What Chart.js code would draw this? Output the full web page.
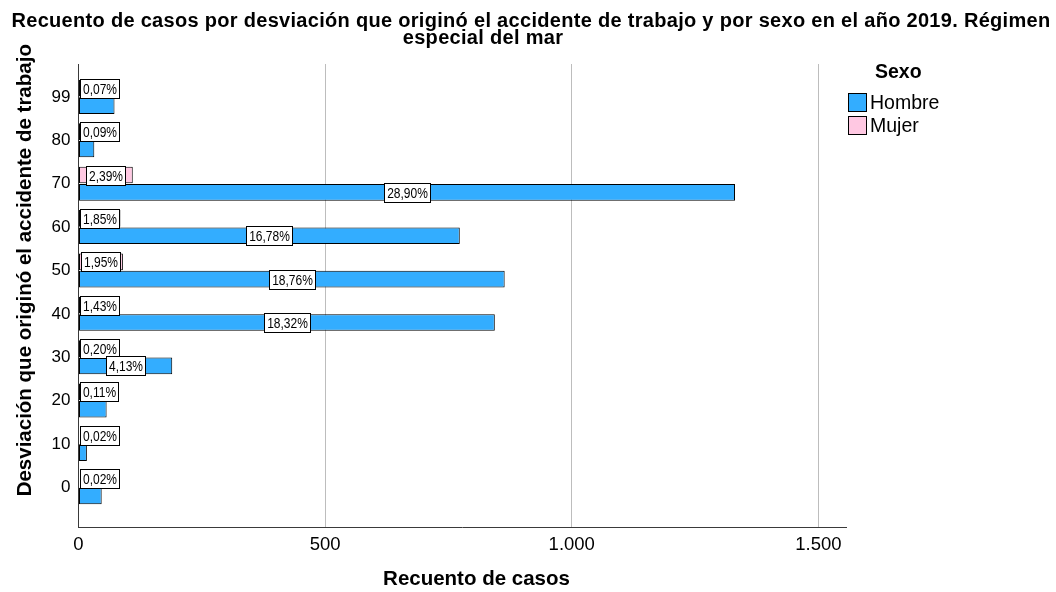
<!DOCTYPE html>
<html lang="es">
<head>
    <meta charset="UTF-8">
    <title>Recuento de casos por desviación - Régimen especial del mar</title>
    <script src="https://cdn.jsdelivr.net/npm/chart.js"></script>
    <style>
        body {
            margin: 0;
            background: #fff;
            font-family: "Liberation Sans", Arial, sans-serif;
        }
        .wrap {
            position: relative;
            width: 1056px;
            height: 592px;
        }
        canvas {
            position: absolute;
            left: 0;
            top: 0;
        }
        .title {
            position: absolute;
            font-size: 20px;
            font-weight: bold;
            letter-spacing: 0.3px;
            line-height: 20px;
            white-space: nowrap;
            transform: translateX(-50%);
            color: #000;
        }
        .legend {
            position: absolute;
            left: 848px;
            top: 60px;
            font-size: 19.5px;
            color: #000;
        }
        .legend .head {
            font-weight: bold;
            margin-left: 27px;
            line-height: 22px;
        }
        .legend .item {
            display: flex;
            align-items: center;
            height: 22px;
            margin-top: 1px;
        }
        .legend .item.first {
            margin-top: 9px;
        }
        .legend .box {
            width: 17px;
            height: 17px;
            border: 1px solid #000;
            margin-right: 3px;
        }
    </style>
</head>
<body>
    <div class="wrap">
        <canvas id="chart" width="1056" height="592"></canvas>
        <div class="title" style="left:531px; top:10px;">Recuento de casos por desviación que originó el accidente de trabajo y por sexo en el año 2019. Régimen</div>
        <div class="title" style="left:483px; top:27px;">especial del mar</div>
        <div class="legend">
            <div class="head">Sexo</div>
            <div class="item first"><span class="box" style="background:#33adff"></span>Hombre</div>
            <div class="item"><span class="box" style="background:#ffc8e2"></span>Mujer</div>
        </div>
    </div>

    <script>
        // categorías de desviación, de arriba a abajo
        const categories = ["99", "80", "70", "60", "50", "40", "30", "20", "10", "0"];
        const hombre = [73, 32, 1331, 773, 864, 844, 190, 57, 17, 47];
        const mujer = [3, 4, 110, 85, 90, 66, 9, 5, 1, 1];
        // porcentajes del total mostrados en las etiquetas (null = sin etiqueta)
        const hombreLabels = [null, null, "28,90%", "16,78%", "18,76%", "18,32%", "4,13%", null, null, null];
        const mujerLabels = ["0,07%", "0,09%", "2,39%", "1,85%", "1,95%", "1,43%", "0,20%", "0,11%", "0,02%", "0,02%"];
        const xTicks = [0, 500, 1000, 1500];
        const xMax = 1556;

        const colorHombre = "#33adff";
        const colorMujer = "#ffc8e2";

        function toPoints(values) {
            return values.map((v, i) => ({ x: v, y: i }));
        }

        function formatMiles(v) {
            return String(v).replace(/\B(?=(\d{3})+(?!\d))/g, ".");
        }

        // cajas blancas con el porcentaje sobre cada barra
        const boxLabels = {
            id: "boxLabels",
            afterDatasetsDraw(chart) {
                const ctx = chart.ctx;
                const left = chart.chartArea.left;
                ctx.save();
                ctx.font = "12px 'Liberation Sans', Arial, sans-serif";
                ctx.textAlign = "center";
                ctx.textBaseline = "middle";
                chart.data.datasets.forEach((ds, di) => {
                    const meta = chart.getDatasetMeta(di);
                    meta.data.forEach((bar, i) => {
                        const text = ds.boxLabels[i];
                        if (!text) return;
                        const w = Math.round(ctx.measureText(text).width + 5);
                        const h = 19;
                        const barW = Math.abs(bar.x - bar.base);
                        if (ds.onlyInside && barW < w) return;
                        let cx = (bar.x + bar.base) / 2;
                        cx = Math.max(cx, left + 1 + w / 2);
                        const x0 = Math.round(cx - w / 2) + 0.5;
                        const y0 = Math.round(bar.y - h / 2) + 0.5;
                        ctx.fillStyle = "#fff";
                        ctx.fillRect(x0, y0, w, h);
                        ctx.strokeStyle = "#000";
                        ctx.lineWidth = 1;
                        ctx.strokeRect(x0, y0, w, h);
                        // letra estrecha y alta como en el original
                        ctx.save();
                        ctx.translate(x0 + w / 2, y0 + h / 2 + 0.5);
                        ctx.scale(1, 1.25);
                        ctx.fillStyle = "#000";
                        ctx.fillText(text, 0, 0);
                        ctx.restore();
                    });
                });
                ctx.restore();
            }
        };

        const ctx = document.getElementById("chart").getContext("2d");
        const chart = new Chart(ctx, {
            type: "bar",
            data: {
                datasets: [
                    {
                        label: "Mujer",
                        data: toPoints(mujer),
                        backgroundColor: colorMujer,
                        borderColor: "#000",
                        borderWidth: 1,
                        borderSkipped: false,
                        boxLabels: mujerLabels,
                        onlyInside: false
                    },
                    {
                        label: "Hombre",
                        data: toPoints(hombre),
                        backgroundColor: colorHombre,
                        borderColor: "#000",
                        borderWidth: 1,
                        borderSkipped: false,
                        boxLabels: hombreLabels,
                        onlyInside: true
                    }
                ]
            },
            options: {
                indexAxis: "y",
                responsive: false,
                animation: false,
                devicePixelRatio: 1,
                categoryPercentage: 0.8,
                barPercentage: 0.96,
                layout: {
                    padding: { left: 0, right: 210, top: 64, bottom: 0 }
                },
                plugins: {
                    legend: { display: false },
                    tooltip: { enabled: false }
                },
                scales: {
                    x: {
                        type: "linear",
                        bounds: "data",
                        min: 0,
                        max: xMax,
                        afterBuildTicks: (s) => { s.ticks = xTicks.map((v) => ({ value: v })); },
                        grid: {
                            drawTicks: false,
                            color: (c) => (c.tick && c.tick.value === 0 ? "rgba(0,0,0,0)" : "#bdbdbd"),
                            lineWidth: 1
                        },
                        border: { color: "#3a3a3a", width: 1 },
                        ticks: {
                            padding: 6,
                            color: "#000",
                            maxRotation: 0,
                            font: { family: "'Liberation Sans', Arial", size: 18.5 },
                            callback: (v) => formatMiles(v)
                        },
                        title: {
                            display: true,
                            text: "     Recuento de casos",
                            color: "#000",
                            font: { family: "'Liberation Sans', Arial", size: 20.5, weight: "bold" },
                            padding: { top: 5.5, bottom: 0 }
                        }
                    },
                    y: {
                        type: "linear",
                        bounds: "data",
                        reverse: true,
                        offset: false,
                        min: -0.76,
                        max: 9.93,
                        afterBuildTicks: (s) => { s.ticks = categories.map((c, i) => ({ value: i })); },
                        grid: { display: false, drawTicks: false, offset: false },
                        border: { display: true, color: "#3a3a3a", width: 1 },
                        ticks: {
                            padding: 8,
                            color: "#000",
                            font: { family: "'Liberation Sans', Arial", size: 17 },
                            callback: (v) => categories[v]
                        },
                        title: {
                            display: true,
                            text: "         Desviación que originó el accidente de trabajo",
                            color: "#000",
                            font: { family: "'Liberation Sans', Arial", size: 20.5, weight: "bold" },
                            padding: { top: 13, bottom: 6 }
                        }
                    }
                }
            },
            plugins: [boxLabels]
        });
    </script>
</body>
</html>
